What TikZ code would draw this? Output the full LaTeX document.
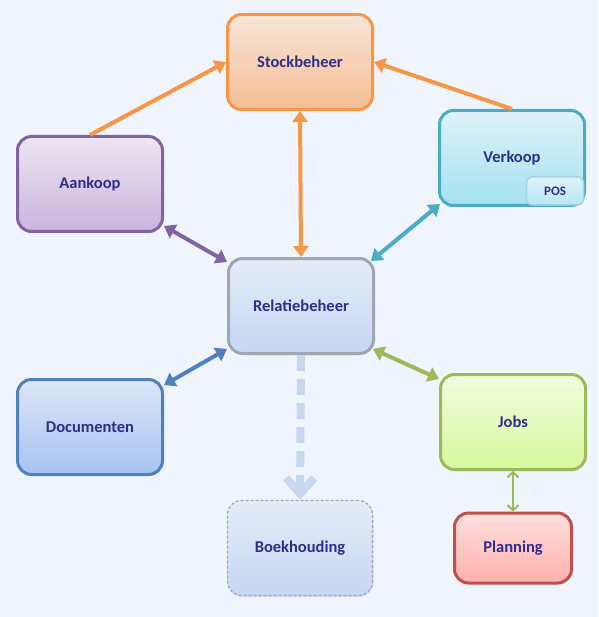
\documentclass[tikz,border=0pt]{standalone}
\usepackage{fontspec}
\setmainfont{Carlito}
\usetikzlibrary{arrows.meta,shadows}

\definecolor{bgblue}{RGB}{239,244,253}
\definecolor{txtblue}{RGB}{46,46,140}
\definecolor{stockc}{RGB}{247,150,70}
\definecolor{stocktop}{RGB}{247,229,216}
\definecolor{stockbot}{RGB}{245,190,146}
\definecolor{aankc}{RGB}{128,100,162}
\definecolor{aanktop}{RGB}{237,229,241}
\definecolor{aankbot}{RGB}{200,181,222}
\definecolor{verkc}{RGB}{75,172,198}
\definecolor{verktop}{RGB}{222,242,248}
\definecolor{verkbot}{RGB}{164,225,242}
\definecolor{relc}{RGB}{160,166,178}
\definecolor{reltop}{RGB}{229,236,247}
\definecolor{relbot}{RGB}{197,215,245}
\definecolor{docc}{RGB}{79,129,189}
\definecolor{doctop}{RGB}{220,230,247}
\definecolor{docbot}{RGB}{166,195,240}
\definecolor{jobc}{RGB}{155,187,89}
\definecolor{jobtop}{RGB}{241,252,223}
\definecolor{jobbot}{RGB}{217,248,158}
\definecolor{planc}{RGB}{192,80,77}
\definecolor{plantop}{RGB}{255,223,223}
\definecolor{planbot}{RGB}{255,176,172}
\definecolor{bkline}{RGB}{199,215,238}

\begin{document}
\begin{tikzpicture}[
 x=1pt, y=-1pt,
 module/.style={rectangle, rounded corners=14pt, line width=3pt, minimum width=145pt, minimum height=95pt, font=\fontsize{16.5}{18}\selectfont\bfseries, text=txtblue, drop shadow={opacity=0.2, shadow xshift=1pt, shadow yshift=-1.5pt}},
 arr/.style={-{Triangle[length=11pt,width=15pt]}, line width=4pt},
 darr/.style={{Triangle[length=11pt,width=15pt]}-{Triangle[length=11pt,width=15pt]}, line width=4pt},
]
\fill[bgblue] (0,0) rectangle (598,617);
\useasboundingbox (0,0) rectangle (598,617);

\node[module, draw=stockc, top color=stocktop, bottom color=stockbot] (stock) at (300,62) {Stockbeheer};
\node[module, draw=aankc, top color=aanktop, bottom color=aankbot] (aankoop) at (90,184) {Aankoop};
\node[module, draw=verkc, top color=verktop, bottom color=verkbot] (verkoop) at (512,158) {Verkoop};
\node[rectangle, rounded corners=6pt, draw=verkc!50, line width=1.5pt, top color=verktop, bottom color=verkbot!80, minimum width=57pt, minimum height=28pt, font=\fontsize{13}{15}\selectfont\bfseries, text=txtblue] (pos) at (555,191) {POS};
\node[module, draw=relc, top color=reltop, bottom color=relbot] (rel) at (301,306) {Relatiebeheer};
\node[module, draw=docc, top color=doctop, bottom color=docbot] (doc) at (90,427) {Documenten};
\node[module, draw=jobc, top color=jobtop, bottom color=jobbot] (jobs) at (513,422) {Jobs};
\node[module, draw=relc, densely dashed, line width=1.2pt, top color=reltop, bottom color=relbot] (bk) at (300,548) {Boekhouding};
\node[module, draw=planc, top color=plantop, bottom color=planbot, minimum width=117pt, minimum height=70pt] (plan) at (513,548) {Planning};

% naar stockbeheer
\draw[arr, stockc] (aankoop.north) -- (stock.west);
\draw[arr, stockc] (verkoop.north) -- (stock.east);
\draw[darr, stockc] (stock.south) -- (rel.north);

% rond relatiebeheer
\draw[darr, aankc] ([shift={(0,-7)}]aankoop.south east) -- ([shift={(0,5)}]rel.north west);
\draw[darr, verkc] ([shift={(2,-3)}]verkoop.south west) -- ([shift={(-4,4)}]rel.north east);
\draw[darr, docc] ([shift={(0,7)}]doc.north east) -- ([shift={(0,-6)}]rel.south west);
\draw[darr, jobc] ([shift={(-2,-6)}]rel.south east) -- ([shift={(0,6)}]jobs.north west);
\draw[-{Straight Barb[length=16pt,width=28pt]}, bkline, line width=8pt, dash pattern=on 16pt off 8pt] (rel.south) -- (bk.north);
\draw[{Straight Barb[length=5pt,width=11pt]}-{Straight Barb[length=5pt,width=11pt]}, jobc, line width=2pt] (jobs.south) -- (plan.north);

\end{tikzpicture}
\end{document}
